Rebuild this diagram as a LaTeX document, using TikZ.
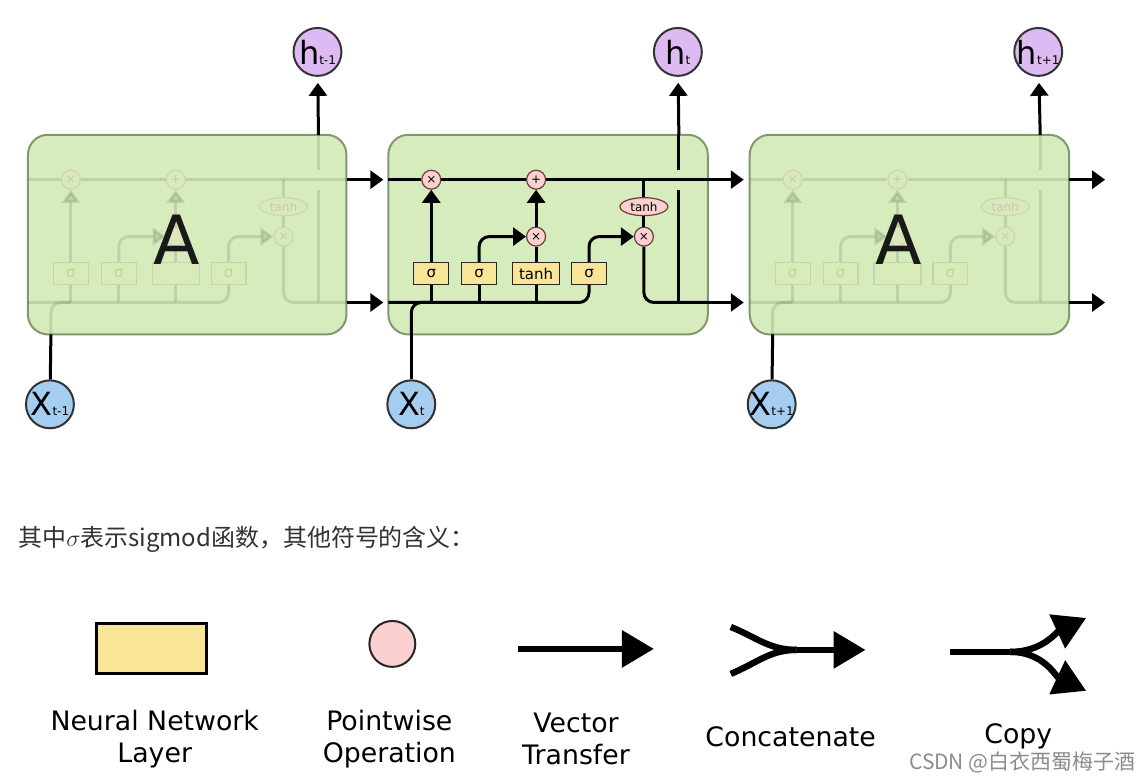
\documentclass[tikz,border=0pt]{standalone}
\usepackage{fontspec}
\setmainfont{DejaVu Sans}
\newfontfamily\cjk{Noto Sans CJK SC}
\usetikzlibrary{arrows.meta,shapes.geometric}
\definecolor{cellgreen}{RGB}{214,236,189}
\definecolor{cellborder}{RGB}{130,152,112}
\definecolor{layeryellow}{RGB}{248,230,150}
\definecolor{oppink}{RGB}{250,208,208}
\definecolor{opborder}{RGB}{110,60,60}
\definecolor{hpurple}{RGB}{222,186,242}
\definecolor{xblue}{RGB}{164,205,240}
\definecolor{capgray}{RGB}{50,50,50}

\begin{document}
\begin{tikzpicture}[x=0.5pt, y=-0.5pt,
	cell/.style={rounded corners=10pt, fill=cellgreen, draw=cellborder, line width=1pt},
	wire/.style={line width=1.5pt},
	arr/.style={wire, -{Triangle[length=6.5pt,width=9pt]}},
	layer/.style={draw=black!85, fill=layeryellow, line width=0.6pt, minimum width=17.5pt, minimum height=11pt, inner sep=0pt, font=\fontsize{7.5}{7.5}\selectfont},
	op/.style={circle, draw=opborder, fill=oppink, line width=0.6pt, minimum size=9.5pt, inner sep=0pt, font=\fontsize{6}{6}\selectfont},
	optanh/.style={ellipse, draw=opborder, fill=oppink, line width=0.6pt, minimum width=24pt, minimum height=9pt, inner sep=0pt, font=\fontsize{6}{6}\selectfont},
	hstate/.style={circle, draw=black!80, fill=hpurple, line width=1pt, minimum size=24pt, inner sep=0pt, font=\fontsize{16}{16}\selectfont},
	xin/.style={circle, draw=black!80, fill=xblue, line width=1pt, minimum size=24pt, inner sep=0pt, font=\fontsize{16}{16}\selectfont},
	bigA/.style={font=\fontsize{34}{34}\selectfont, text=black!90},
	legend/.style={align=center, font=\fontsize{13.4}{16}\selectfont},
	fat/.style={line width=3.2pt},
	bigtip/.style={-{Triangle[length=16pt,width=18pt]}}]

	\path[fill=white] (0,0) rectangle (1142,782);

	\draw[cell] (28,135) rectangle (347,335);
	\draw[cell] (389,135) rectangle (709,335);
	\draw[cell] (751,135) rectangle (1071,335);

	\begin{scope}[shift={(-361,0)}, name prefix=L-, opacity=0.11]
		\coordinate (in-c) at (389,180);
		\coordinate (out-c) at (709,180);
		\coordinate (in-h) at (389,303);
		\coordinate (out-h) at (709,303);
		\coordinate (bot-x) at (412,335);
		\coordinate (top-h) at (680,135);
		\coordinate (tip-c) at (745,180);
		\coordinate (tip-h) at (745,303);
		\coordinate (j-c) at (645,180);
		\coordinate (j-s1) at (432,303);
		\coordinate (j-s2) at (480,303);
		\coordinate (j-tb) at (537,303);
		\coordinate (j-h) at (680,303);
		\coordinate (gap-a) at (680,190);
		\coordinate (gap-b) at (680,170);

		\node[op] (mf) at (432,180) {×};
		\node[op] (ma) at (537,180) {+};
		\node[op] (mi) at (537,237) {};
		\node[op] (mo) at (645,237) {×};
		\node[optanh] (th) at (645,207) {tanh};
		\node[layer] (s1) at (432,274) {σ};
		\node[layer] (s2) at (480,274) {σ};
		\node[layer, minimum width=23.5pt] (tb) at (537,274) {};
		\node[layer] (s3) at (590,274) {σ};

		\draw[wire] (in-c) -- (mf);
		\draw[wire] (mf) -- (ma);
		\draw[wire] (ma) -- (out-c);
		\draw[wire, rounded corners=5pt] (in-h) -| (s3);
		\draw[wire, rounded corners=5pt] (bot-x) |- (j-s1);
		\draw[wire] (j-s1) -- (s1);
		\draw[wire] (j-s2) -- (s2);
		\draw[wire] (j-tb) -- (tb);
		\draw[arr] (s1) -- (mf);
		\draw[arr, rounded corners=5pt] (s2) |- (mi);
		\draw[wire] (tb) -- (mi);
		\draw[arr] (mi) -- (ma);
		\draw[arr, rounded corners=5pt] (s3) |- (mo);
		\draw[wire] (j-c) -- (th);
		\draw[wire] (th) -- (mo);
		\draw[wire, rounded corners=5pt] (mo) |- (out-h);
		\draw[wire] (j-h) -- (gap-a);
		\draw[wire] (gap-b) -- (top-h);
	\end{scope}

	\begin{scope}[name prefix=M-]
		\coordinate (in-c) at (389,180);
		\coordinate (out-c) at (709,180);
		\coordinate (in-h) at (389,303);
		\coordinate (out-h) at (709,303);
		\coordinate (bot-x) at (412,335);
		\coordinate (top-h) at (680,135);
		\coordinate (tip-c) at (745,180);
		\coordinate (tip-h) at (745,303);
		\coordinate (j-c) at (645,180);
		\coordinate (j-s1) at (432,303);
		\coordinate (j-s2) at (480,303);
		\coordinate (j-tb) at (537,303);
		\coordinate (j-h) at (680,303);
		\coordinate (gap-a) at (680,190);
		\coordinate (gap-b) at (680,170);

		\node[op] (mf) at (432,180) {×};
		\node[op] (ma) at (537,180) {+};
		\node[op] (mi) at (537,237) {×};
		\node[op] (mo) at (645,237) {×};
		\node[optanh] (th) at (645,207) {tanh};
		\node[layer] (s1) at (432,274) {σ};
		\node[layer] (s2) at (480,274) {σ};
		\node[layer, minimum width=23.5pt] (tb) at (537,274) {tanh};
		\node[layer] (s3) at (590,274) {σ};

		\draw[wire] (in-c) -- (mf);
		\draw[wire] (mf) -- (ma);
		\draw[wire] (ma) -- (out-c);
		\draw[wire, rounded corners=5pt] (in-h) -| (s3);
		\draw[wire, rounded corners=5pt] (bot-x) |- (j-s1);
		\draw[wire] (j-s1) -- (s1);
		\draw[wire] (j-s2) -- (s2);
		\draw[wire] (j-tb) -- (tb);
		\draw[arr] (s1) -- (mf);
		\draw[arr, rounded corners=5pt] (s2) |- (mi);
		\draw[wire] (tb) -- (mi);
		\draw[arr] (mi) -- (ma);
		\draw[arr, rounded corners=5pt] (s3) |- (mo);
		\draw[wire] (j-c) -- (th);
		\draw[wire] (th) -- (mo);
		\draw[wire, rounded corners=5pt] (mo) |- (out-h);
		\draw[wire] (j-h) -- (gap-a);
		\draw[wire] (gap-b) -- (top-h);
	\end{scope}

	\begin{scope}[shift={(362,0)}, name prefix=R-, opacity=0.11]
		\coordinate (in-c) at (389,180);
		\coordinate (out-c) at (709,180);
		\coordinate (in-h) at (389,303);
		\coordinate (out-h) at (709,303);
		\coordinate (bot-x) at (412,335);
		\coordinate (top-h) at (680,135);
		\coordinate (tip-c) at (745,180);
		\coordinate (tip-h) at (745,303);
		\coordinate (j-c) at (645,180);
		\coordinate (j-s1) at (432,303);
		\coordinate (j-s2) at (480,303);
		\coordinate (j-tb) at (537,303);
		\coordinate (j-h) at (680,303);
		\coordinate (gap-a) at (680,190);
		\coordinate (gap-b) at (680,170);

		\node[op] (mf) at (432,180) {×};
		\node[op] (ma) at (537,180) {+};
		\node[op] (mi) at (537,237) {};
		\node[op] (mo) at (645,237) {×};
		\node[optanh] (th) at (645,207) {tanh};
		\node[layer] (s1) at (432,274) {σ};
		\node[layer] (s2) at (480,274) {σ};
		\node[layer, minimum width=23.5pt] (tb) at (537,274) {};
		\node[layer] (s3) at (590,274) {σ};

		\draw[wire] (in-c) -- (mf);
		\draw[wire] (mf) -- (ma);
		\draw[wire] (ma) -- (out-c);
		\draw[wire, rounded corners=5pt] (in-h) -| (s3);
		\draw[wire, rounded corners=5pt] (bot-x) |- (j-s1);
		\draw[wire] (j-s1) -- (s1);
		\draw[wire] (j-s2) -- (s2);
		\draw[wire] (j-tb) -- (tb);
		\draw[arr] (s1) -- (mf);
		\draw[arr, rounded corners=5pt] (s2) |- (mi);
		\draw[wire] (tb) -- (mi);
		\draw[arr] (mi) -- (ma);
		\draw[arr, rounded corners=5pt] (s3) |- (mo);
		\draw[wire] (j-c) -- (th);
		\draw[wire] (th) -- (mo);
		\draw[wire, rounded corners=5pt] (mo) |- (out-h);
		\draw[wire] (j-h) -- (gap-a);
		\draw[wire] (gap-b) -- (top-h);
	\end{scope}

	\node[bigA] (L-a) at (177,240) {A};
	\node[bigA] (R-a) at (900,240) {A};

	\node[hstate] (L-h) at (318,52) {\makebox[12pt]{h\fontsize{6}{6}\selectfont t-1}};
	\node[hstate] (M-h) at (679,52) {\makebox[12pt]{h\fontsize{6}{6}\selectfont t}};
	\node[hstate] (R-h) at (1040,52) {\makebox[12pt]{h\fontsize{6}{6}\selectfont t+1}};
	\node[xin] (L-x) at (50,405) {\makebox[12pt]{X\fontsize{6}{6}\selectfont t-1}};
	\node[xin] (M-x) at (412,405) {\makebox[12pt]{X\fontsize{6}{6}\selectfont t}};
	\node[xin] (R-x) at (773,405) {\makebox[12pt]{X\fontsize{6}{6}\selectfont t+1}};

	\draw[arr, shorten >=3pt] (L-top-h) -- (L-h);
	\draw[arr, shorten >=3pt] (M-top-h) -- (M-h);
	\draw[arr, shorten >=3pt] (R-top-h) -- (R-h);
	\draw[wire] (L-x) -- (L-bot-x);
	\draw[wire] (M-x) -- (M-bot-x);
	\draw[wire] (R-x) -- (R-bot-x);
	\draw[arr] (L-out-c) -- (L-tip-c);
	\draw[arr] (L-out-h) -- (L-tip-h);
	\draw[arr] (M-out-c) -- (M-tip-c);
	\draw[arr] (M-out-h) -- (M-tip-h);
	\draw[arr] (R-out-c) -- (R-tip-c);
	\draw[arr] (R-out-h) -- (R-tip-h);

	\node[anchor=west, inner sep=0pt, text=capgray, font=\cjk\fontsize{12}{12}\selectfont] (cap) at (18,540) {其中$\sigma$表示sigmod函数，其他符号的含义：};

	\node[draw=black, line width=1.5pt, fill=layeryellow, minimum width=55pt, minimum height=25pt] (lg-nn) at (152,650) {};
	\node[circle, draw=black!85, line width=1pt, fill=oppink, minimum size=23pt] (lg-pw) at (393,645) {};
	\coordinate (vt-a) at (519,650);
	\coordinate (vt-b) at (655,650);
	\coordinate (cc-a) at (732,628);
	\coordinate (cc-b) at (732,675);
	\coordinate (cc-m) at (798,651);
	\coordinate (cc-e) at (867,651);
	\coordinate (cp-a) at (952,653);
	\coordinate (cp-m) at (1012,653);
	\coordinate (cp-u) at (1088,619);
	\coordinate (cp-d) at (1088,692);

	\draw[fat, bigtip] (vt-a) -- (vt-b);
	\draw[fat] (cc-a) to[out=-22, in=180] (cc-m);
	\draw[fat] (cc-b) to[out=22, in=180] (cc-m);
	\draw[fat, bigtip] (cc-m) -- (cc-e);
	\draw[fat] (cp-a) -- (cp-m);
	\draw[fat, bigtip] (cp-m) to[out=0, in=205] (cp-u);
	\draw[fat, bigtip] (cp-m) to[out=0, in=155] (cp-d);

	\node[legend] (t-nn) at (155,740) {Neural Network\\Layer};
	\node[legend] (t-pw) at (390,740) {Pointwise\\Operation};
	\node[legend] (t-vt) at (577,740) {Vector\\Transfer};
	\node[legend] (t-cc) at (792,738) {Concatenate};
	\node[legend] (t-cp) at (1020,738) {Copy};

	\node[text=black!45, font=\cjk\fontsize{10.5}{10.5}\selectfont] (wm) at (1024,764) {CSDN @白衣西蜀梅子酒};
\end{tikzpicture}
\end{document}
